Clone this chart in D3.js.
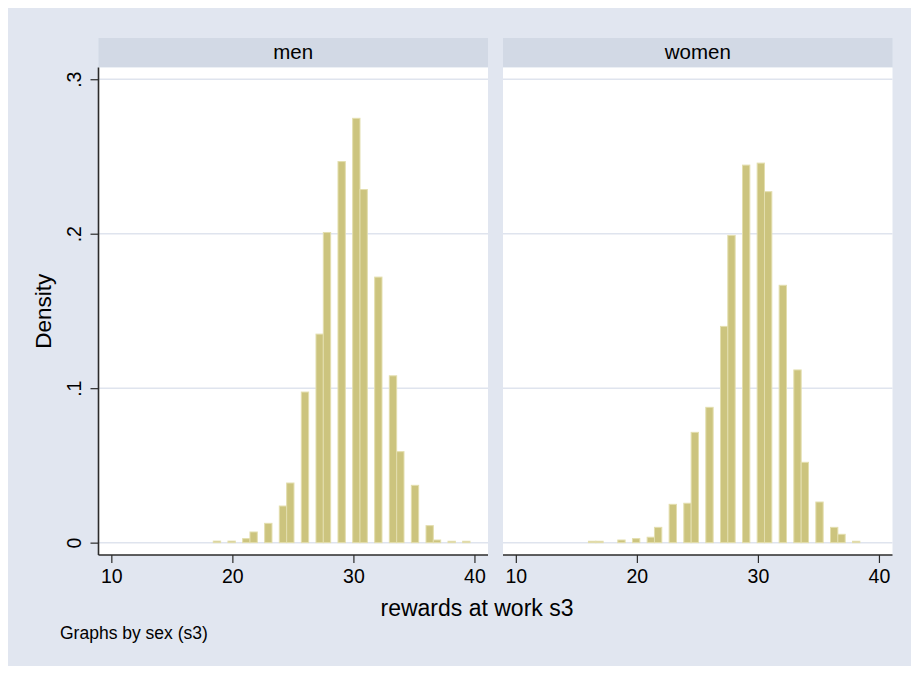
<!DOCTYPE html>
<html>
<head>
<meta charset="utf-8">
<script src="https://cdn.jsdelivr.net/npm/d3@7"></script>
<style>
    body { margin: 0; background: #ffffff; }
    text { font-family: "Liberation Sans", Arial, Helvetica, sans-serif; fill: #000; }
</style>
</head>
<body>
<div id="chart"></div>
<script>

// histogram bins (same bins for both groups)
var binStart = 16;
var binWidth = 0.606;

var groups = ["men", "women"];

var menDensity = [0, 0, 0, 0, .001, 0, .001, 0, .0026, .0069,
    0, .0125, 0, .0237, .0386, 0, .0975, 0, .135, .2008,
    0, .2467, 0, .2747, .2286, 0, .1719, 0, .108, .0589,
    0, .0371, 0, .011, .0017, 0, .0009, 0, .0009, 0];

var womenDensity = [.0009, .0009, 0, 0, .0017, 0, .0026, 0, .0035, .0099,
    0, .0248, 0, .0255, .0714, 0, .0876, 0, .14, .1989,
    0, .2444, 0, .2457, .2272, 0, .1666, 0, .1118, .052,
    0, .0263, 0, .0099, .0054, 0, .0009, 0, 0, 0];

var xTicks = [10, 20, 30, 40];
var yTicks = [0, .1, .2, .3];
var yTickLabels = ["0", ".1", ".2", ".3"];

var xTitle = "rewards at work s3";
var yTitle = "Density";
var note = "Graphs by sex (s3)";

var width = 911,
    height = 673;

var panelLeft = [98.5, 503],
    panelWidth = 389.5,
    headerTop = 38,
    plotTop = 67.5,
    plotBottom = 555;

var barFill = "#ccc47e",
    barStroke = "#e3deae",
    gridColor = "#dfe4ee",
    axisColor = "#2b2b2b";

var svg = d3.select("#chart")
    .append("svg")
    .attr("width", width)
    .attr("height", height);

svg.append("rect")
    .attr("x", 8)
    .attr("y", 8)
    .attr("width", width - 8)
    .attr("height", 658)
    .style("fill", "#e1e6f0");

var y = d3.scaleLinear()
    .domain([-0.008, 0.3076])
    .range([plotBottom, plotTop]);

var densities = [menDensity, womenDensity];

groups.forEach(function (name, i) {
    var left = panelLeft[i];

    var x = d3.scaleLinear()
        .domain([8.94, 41.12])
        .range([left, left + panelWidth]);

    // strip header
    svg.append("rect")
        .attr("x", left)
        .attr("y", headerTop)
        .attr("width", panelWidth)
        .attr("height", plotTop - headerTop)
        .style("fill", "#d2d9e5");

    svg.append("text")
        .attr("x", left + panelWidth / 2)
        .attr("y", 59)
        .attr("text-anchor", "middle")
        .style("font-size", "20.5px")
        .text(name);

    svg.append("rect")
        .attr("x", left)
        .attr("y", plotTop)
        .attr("width", panelWidth)
        .attr("height", plotBottom - plotTop)
        .style("fill", "#ffffff");

    // gridlines
    svg.append("g")
        .selectAll("line")
        .data(yTicks)
        .enter().append("line")
        .attr("x1", left)
        .attr("x2", left + panelWidth)
        .attr("y1", function (d) { return y(d); })
        .attr("y2", function (d) { return y(d); })
        .style("stroke", gridColor)
        .style("stroke-width", 1.5);

    var bins = densities[i].map(function (d, k) {
        return {x0: binStart + k * binWidth, x1: binStart + (k + 1) * binWidth, density: d};
    }).filter(function (b) { return b.density > 0; });

    svg.append("g")
        .selectAll("rect")
        .data(bins)
        .enter().append("rect")
        .attr("x", function (d) { return x(d.x0); })
        .attr("width", function (d) { return x(d.x1) - x(d.x0); })
        .attr("y", function (d) { return y(d.density); })
        .attr("height", function (d) { return y(0) - y(d.density); })
        .style("fill", barFill)
        .style("stroke", barStroke)
        .style("stroke-width", 1);

    // x axis
    var xAxis = svg.append("g")
        .attr("transform", "translate(0," + plotBottom + ")")
        .call(d3.axisBottom(x).tickValues(xTicks).tickSize(8).tickPadding(6).tickFormat(d3.format("d")));

    xAxis.select(".domain")
        .attr("d", "M" + left + ",0H" + (left + panelWidth))
        .style("stroke", axisColor)
        .style("stroke-width", 1.6);
    xAxis.selectAll(".tick line").style("stroke", axisColor).style("stroke-width", 1.2);
    xAxis.selectAll(".tick text")
        .style("font-family", "'Liberation Sans', Arial, sans-serif")
        .style("font-size", "19.5px")
        .style("fill", "#000");
});

// y axis on the left panel only
var yAxis = svg.append("g")
    .attr("transform", "translate(" + panelLeft[0] + ",0)")
    .call(d3.axisLeft(y).tickValues(yTicks).tickSize(8).tickFormat(function (d, i) { return yTickLabels[i]; }));

yAxis.select(".domain")
    .attr("d", "M0," + plotTop + "V" + plotBottom)
    .style("stroke", axisColor)
    .style("stroke-width", 1.6);
yAxis.selectAll(".tick line").style("stroke", axisColor).style("stroke-width", 1.2);
yAxis.selectAll(".tick text")
    .attr("x", null)
    .attr("dy", null)
    .attr("text-anchor", "middle")
    .attr("transform", "translate(-18,0) rotate(-90)")
    .style("font-family", "'Liberation Sans', Arial, sans-serif")
    .style("font-size", "19.5px")
    .style("fill", "#000");

svg.append("text")
    .attr("transform", "translate(51," + ((plotTop + plotBottom) / 2) + ") rotate(-90)")
    .attr("text-anchor", "middle")
    .style("font-size", "22.5px")
    .text(yTitle);

svg.append("text")
    .attr("x", 477)
    .attr("y", 616)
    .attr("text-anchor", "middle")
    .style("font-size", "23px")
    .text(xTitle);

svg.append("text")
    .attr("x", 60)
    .attr("y", 639)
    .style("font-size", "17.5px")
    .text(note);

</script>
</body>
</html>
